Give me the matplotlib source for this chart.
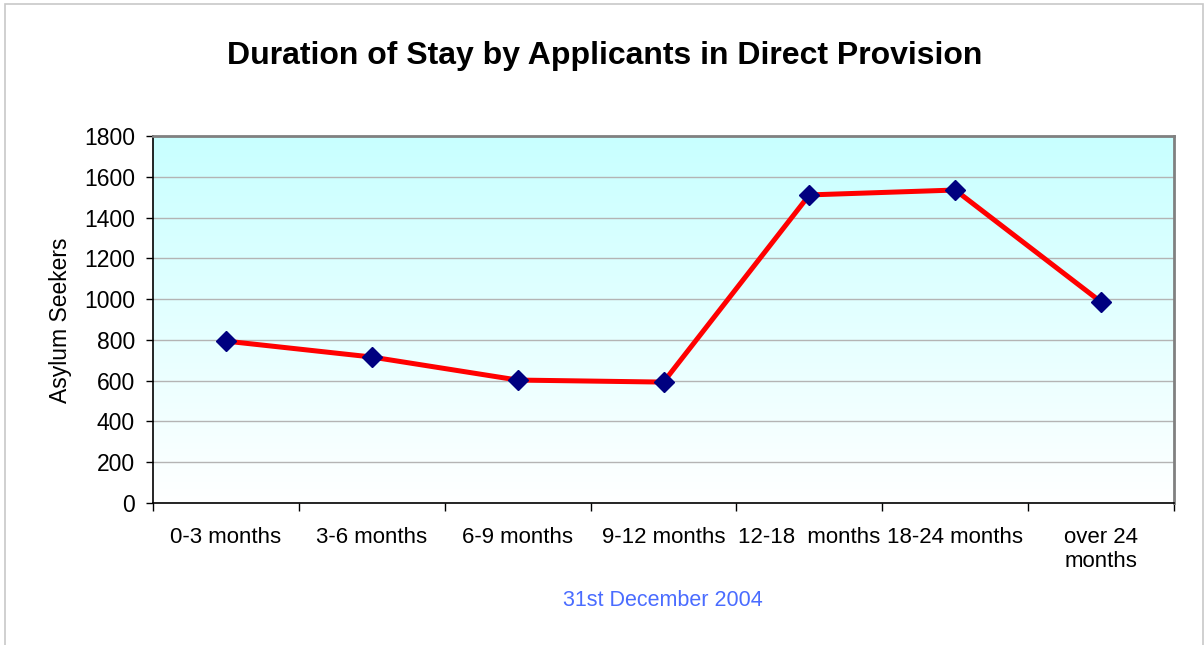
import matplotlib
matplotlib.use("Agg")
import matplotlib.pyplot as plt
import numpy as np
from matplotlib.colors import LinearSegmentedColormap
from matplotlib.patches import Rectangle

plt.rcParams['font.family'] = ['Liberation Sans', 'DejaVu Sans']

categories = ["0-3 months", "3-6 months", "6-9 months", "9-12 months",
              "12-18  months", "18-24 months", "over 24\nmonths"]
values = [794, 716, 603, 593, 1511, 1535, 986]
yticks = [0, 200, 400, 600, 800, 1000, 1200, 1400, 1600, 1800]
title = "Duration of Stay by Applicants in Direct Provision"
ylabel = "Asylum Seekers"
subtitle = "31st December 2004"

W, H = 1204, 645
fig = plt.figure(figsize=(W / 100, H / 100), dpi=100)
ax = fig.add_axes([153 / W, 1 - 503 / H, (1174 - 153) / W, (503 - 136) / H])

n = len(categories)
# gradient background
cmap = LinearSegmentedColormap.from_list("g", ["#ffffff", "#c8ffff"])
grad = np.linspace(0, 1, 256).reshape(-1, 1)
ax.imshow(grad, cmap=cmap, aspect="auto", origin="lower",
          extent=[0, n, 0, 1800], zorder=0)

ax.set_xlim(0, n)
ax.set_ylim(0, 1800)
ax.set_yticks(yticks)
ax.set_yticklabels([str(v) for v in yticks], fontsize=16.5)
ax.yaxis.grid(True, color="#b4b4b4", linewidth=1.0, zorder=1)
ax.set_axisbelow(True)

x = np.arange(n) + 0.5
ax.plot(x, values, color="#ff0000", linewidth=3.6, zorder=3, solid_joinstyle="miter")
ax.plot(x, values, linestyle="none", marker="D", markersize=10.5,
        color="#000080", markeredgecolor="#000080", zorder=4)

# x ticks at category boundaries, labels at centers
ax.set_xticks(np.arange(n + 1))
ax.set_xticklabels([""] * (n + 1))
ax.set_xticks(x, minor=True)
ax.set_xticklabels(categories, minor=True, fontsize=16, va="top", linespacing=1.2)
ax.tick_params(axis="x", which="minor", length=0, pad=17)
ax.tick_params(axis="x", which="major", length=6, width=1, color="black", direction="out")
ax.tick_params(axis="y", length=5, width=1, color="black", direction="out", pad=8)

for s in ["left", "bottom"]:
    ax.spines[s].set_color("black")
    ax.spines[s].set_linewidth(1.2)
for s in ["top", "right"]:
    ax.spines[s].set_color("#808080")
    ax.spines[s].set_linewidth(2)

fig.text(60 / W, 1 - 320 / H, ylabel, rotation=90, fontsize=16.5, ha="center", va="center")

fig.text(605 / W, 1 - 56 / H, title, fontsize=23, fontweight="bold", ha="center", va="center")
fig.text(663 / W, 1 - 600 / H, subtitle, fontsize=15.5, color="#4a6cff", ha="center", va="center")

# outer border
fig.patches.append(Rectangle((5 / W, -0.1), (1203 - 5) / W, 1.1 - 4 / H,
                             transform=fig.transFigure, fill=False,
                             edgecolor="#c8c8c8", linewidth=1.2))

fig.savefig("out.png", dpi=100)
